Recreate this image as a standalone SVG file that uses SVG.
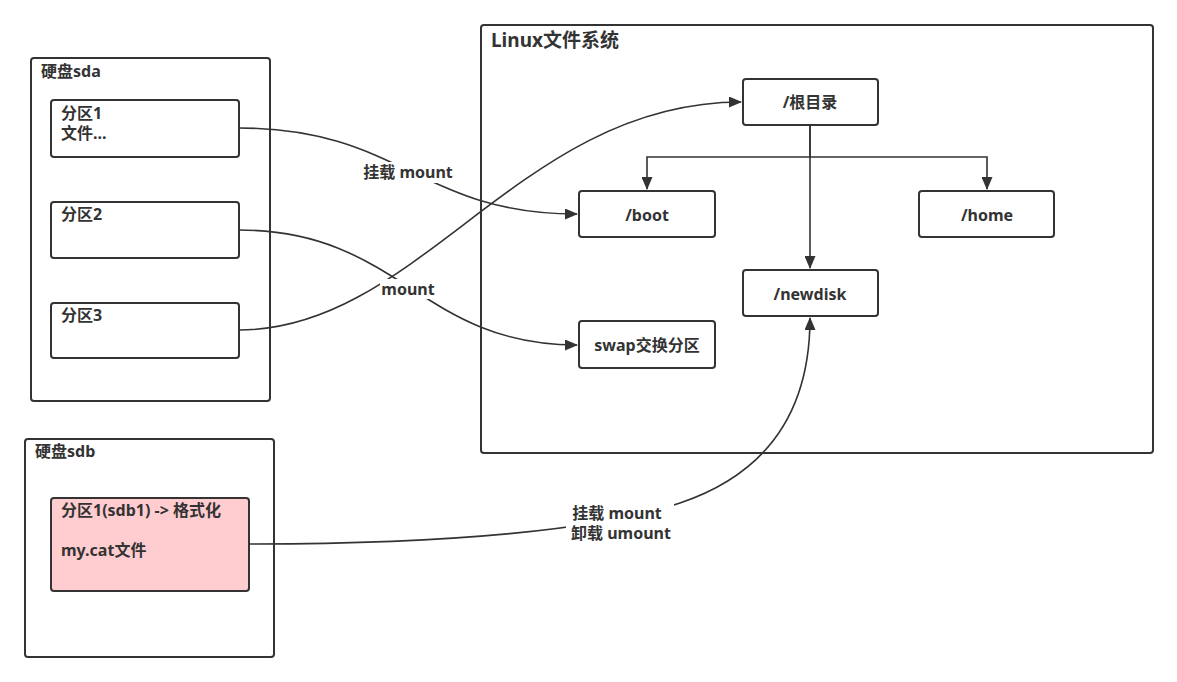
<svg xmlns="http://www.w3.org/2000/svg" width="1177" height="682" viewBox="0 0 1177 682">
<style>
.box{fill:#fff;stroke:#333;stroke-width:2}
.pink{fill:#ffccd0;stroke:#333;stroke-width:2}
text{font-family:"Noto Sans","Noto Sans CJK SC",sans-serif;font-weight:bold;fill:#333;font-size:16px}
.title{font-size:19px}
.c{text-anchor:middle}
.edge{fill:none;stroke:#333;stroke-width:1.6}
.lblbg{fill:#fff}
</style>
<defs>
<marker id="arr" markerWidth="13" markerHeight="11" refX="12" refY="5.5" orient="auto" markerUnits="userSpaceOnUse">
<path d="M0,0 L13,5.5 L0,11 Z" fill="#333"/>
</marker>
</defs>
<rect width="1177" height="682" fill="#fff"/>
<g id="disk-sda">
<rect class="box" x="31" y="58" width="239" height="343" rx="3"/>
<text x="41" y="77">硬盘sda</text>
</g>
<g id="sda1">
<rect class="box" x="51" y="100" width="188" height="57" rx="3"/>
<text x="61" y="119">分区1</text>
<text x="61" y="139">文件...</text>
</g>
<g id="sda2">
<rect class="box" x="51" y="202" width="188" height="56" rx="3"/>
<text x="61" y="220">分区2</text>
</g>
<g id="sda3">
<rect class="box" x="51" y="303" width="188" height="55" rx="3"/>
<text x="61" y="321">分区3</text>
</g>
<g id="disk-sdb">
<rect class="box" x="25" y="439" width="249" height="218" rx="3"/>
<text x="35" y="457">硬盘sdb</text>
</g>
<g id="sdb1">
<rect class="pink" x="51" y="498" width="198" height="93" rx="3"/>
<text x="61" y="516">分区1(sdb1) -&gt; 格式化</text>
<text x="61" y="556">my.cat文件</text>
</g>
<g id="linux-fs">
<rect class="box" x="481" y="25" width="672" height="428" rx="3"/>
<text x="491" y="47" class="title">Linux文件系统</text>
</g>
<g id="edges">
<path class="edge" d="M810,125 V157 H647 V189" marker-end="url(#arr)"/>
<path class="edge" d="M810,157 H987 V189" marker-end="url(#arr)"/>
<path class="edge" d="M810,125 V268" marker-end="url(#arr)"/>
<path class="edge" d="M239,128 C400,128 420,214 577,214" marker-end="url(#arr)"/>
<path class="edge" d="M239,230 C400,230 420,345 577,345" marker-end="url(#arr)"/>
<path class="edge" d="M239,330 C420,330 520,102 741,102" marker-end="url(#arr)"/>
<path class="edge" d="M249,544 C450,544 600,530 680,503 C760,476 810,420 810,318" marker-end="url(#arr)"/>
<rect class="lblbg" x="361" y="162" width="95" height="21"/>
<text x="408" y="178" class="c">挂载 mount</text>
<rect class="lblbg" x="380" y="279" width="57" height="20"/>
<text x="408" y="295" class="c">mount</text>
<rect class="lblbg" x="566" y="503" width="108" height="42"/>
<text x="617" y="519" class="c">挂载 mount</text>
<text x="621" y="539" class="c">卸载 umount</text>
</g>
<g id="root">
<rect class="box" x="743" y="79" width="135" height="46" rx="3"/>
<text x="810" y="108" class="c">/根目录</text>
</g>
<g id="boot">
<rect class="box" x="579" y="191" width="136" height="46" rx="3"/>
<text x="647" y="221" class="c">/boot</text>
</g>
<g id="home">
<rect class="box" x="919" y="191" width="135" height="46" rx="3"/>
<text x="987" y="221" class="c">/home</text>
</g>
<g id="newdisk">
<rect class="box" x="743" y="270" width="135" height="46" rx="3"/>
<text x="810" y="300" class="c">/newdisk</text>
</g>
<g id="swap">
<rect class="box" x="579" y="321" width="136" height="47" rx="3"/>
<text x="647" y="351" class="c">swap交换分区</text>
</g>
</svg>
